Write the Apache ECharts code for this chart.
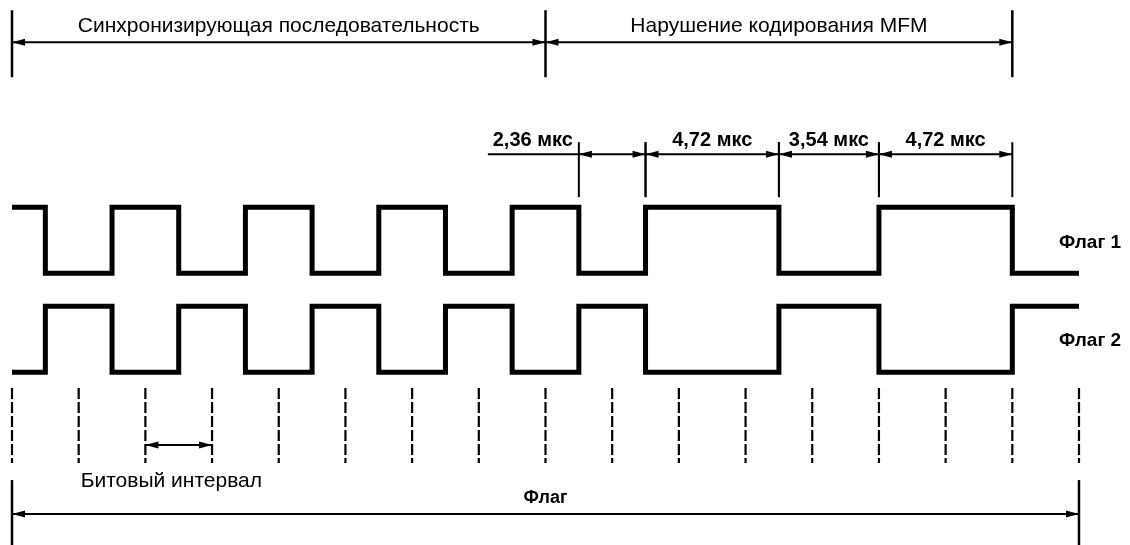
<!DOCTYPE html>
<html>
<head>
<meta charset="utf-8">
<script src="https://cdn.jsdelivr.net/npm/echarts@6/dist/echarts.min.js"></script>
<style>
  html, body { margin: 0; padding: 0; background: #fff; }
  #chart { width: 1130px; height: 545px; }
</style>
</head>
<body>
<div id="chart"></div>
<script>
// bit interval boundaries (x in bit intervals)
const bitTicks = [0, 1, 2, 3, 4, 5, 6, 7, 8, 9, 10, 11, 12, 13, 14, 15, 16]
// signal edges, same time points for both flags
const edgeTimes = [0, 0.5, 1.5, 2.5, 3.5, 4.5, 5.5, 6.5, 7.5, 8.5, 9.5, 11.5, 13, 15, 16]
const flag1Levels = [1, 0, 1, 0, 1, 0, 1, 0, 1, 0, 1, 0, 1, 0, 0]
const flag2Levels = [0, 1, 0, 1, 0, 1, 0, 1, 0, 1, 0, 1, 0, 1, 1]
const signalNames = ['Флаг 1', 'Флаг 2']

const sectionSpans = [[0, 8], [8, 15]]
const sectionNames = ['Синхронизирующая последовательность', 'Нарушение кодирования MFM']
const timingSpans = [[8.5, 9.5], [9.5, 11.5], [11.5, 13], [13, 15]]
const timingLabels = ['2,36 мкс', '4,72 мкс', '3,54 мкс', '4,72 мкс']
const bitSpan = [2, 3]
const bitLabel = 'Битовый интервал'
const flagSpan = [0, 16]
const flagLabel = 'Флаг'

// layout, y in axis units (one unit = signal swing)
const FLAG1_BASE = 1.5
const FLAG2_BASE = 0
const Y = {
  secTop: 5.485, secBottom: 4.47, secArrow: 5.0, secText: 5.245,
  timTop: 3.485, timBottom: 2.652, timArrow: 3.303, timText: 3.51,
  gridTop: -0.242, gridBottom: -1.379,
  bitArrow: -1.106, bitText: -1.655,
  flagTop: -1.636, flagBottom: -2.8, flagArrow: -2.152, flagText: -1.915,
  sig1Text: 1.965, sig2Text: 0.475
}
const FONT = '"Liberation Sans", Arial, sans-serif'

const chart = echarts.init(document.getElementById('chart'))

function vline(api, x, y1, y2, w, dash) {
  const a = api.coord([x, y1])
  const b = api.coord([x, y2])
  return {
    type: 'line',
    shape: { x1: a[0], y1: a[1], x2: b[0], y2: b[1] },
    style: { stroke: '#000', lineWidth: w || 2, lineDash: dash || null }
  }
}

function head(tip, dir) {
  const L = 13, W = 3.5
  return {
    type: 'polygon',
    shape: { points: [[tip[0], tip[1]], [tip[0] - dir * L, tip[1] - W], [tip[0] - dir * L, tip[1] + W]] },
    style: { fill: '#000' }
  }
}

function dim(api, x1, x2, y, leftExtra) {
  const a = api.coord([x1, y])
  const b = api.coord([x2, y])
  return [
    {
      type: 'line',
      shape: { x1: a[0] - (leftExtra || 0), y1: a[1], x2: b[0], y2: b[1] },
      style: { stroke: '#000', lineWidth: 2 }
    },
    head(a, -1),
    head(b, 1)
  ]
}

function label(x, y, text, size, align, weight) {
  return {
    type: 'text',
    x: x, y: y,
    style: {
      text: text, fill: '#000',
      fontSize: size, fontFamily: FONT, fontWeight: weight || 'normal',
      align: align || 'center', verticalAlign: 'middle'
    }
  }
}

function custom(name, data, render) {
  return {
    name: name,
    type: 'custom',
    data: data,
    clip: false,
    silent: true,
    renderItem: function (params, api) {
      return { type: 'group', children: render(params.dataIndex, api) }
    }
  }
}

const options = {
  animation: false,
  backgroundColor: '#fff',
  grid: { left: 12, right: 51, top: 0, bottom: 0 },
  xAxis: { type: 'value', min: 0, max: 16, show: false },
  yAxis: { type: 'value', min: -2.62, max: 5.64, show: false },
  series: [
    {
      name: signalNames[0],
      type: 'line',
      step: 'end',
      symbol: 'none',
      data: edgeTimes.map((t, i) => [t, FLAG1_BASE + flag1Levels[i]]),
      lineStyle: { color: '#000', width: 5, join: 'miter', cap: 'butt' }
    },
    {
      name: signalNames[1],
      type: 'line',
      step: 'end',
      symbol: 'none',
      data: edgeTimes.map((t, i) => [t, FLAG2_BASE + flag2Levels[i]]),
      lineStyle: { color: '#000', width: 5, join: 'miter', cap: 'butt' }
    },
    // dashed bit boundaries
    custom('bits', bitTicks.map(t => [t, Y.gridTop]), (i, api) => [
      vline(api, bitTicks[i], Y.gridTop, Y.gridBottom, 2.2, [11, 3])
    ]),
    // top section dimensions
    custom('sections', sectionSpans.map(s => [(s[0] + s[1]) / 2, Y.secArrow]), (i, api) => {
      const s = sectionSpans[i]
      const c = api.coord([(s[0] + s[1]) / 2, Y.secText])
      const parts = [
        vline(api, s[1], Y.secTop, Y.secBottom, 2.5),
        ...dim(api, s[0], s[1], Y.secArrow),
        label(c[0], c[1], sectionNames[i], 21)
      ]
      if (i === 0) parts.push(vline(api, s[0], Y.secTop, Y.secBottom, 2.5))
      return parts
    }),
    // timing dimensions
    custom('timing', timingSpans.map(s => [(s[0] + s[1]) / 2, Y.timArrow]), (i, api) => {
      const s = timingSpans[i]
      const a = api.coord([s[0], Y.timText])
      const b = api.coord([s[1], Y.timText])
      const outside = b[0] - a[0] < 90
      const parts = [
        vline(api, s[0], Y.timTop, Y.timBottom, 2),
        vline(api, s[1], Y.timTop, Y.timBottom, 2),
        ...dim(api, s[0], s[1], Y.timArrow, outside ? 91 : 0)
      ]
      if (outside) {
        parts.push(label(a[0] - 6, a[1], timingLabels[i], 20, 'right', 'bold'))
      } else {
        parts.push(label((a[0] + b[0]) / 2, a[1], timingLabels[i], 20, 'center', 'bold'))
      }
      return parts
    }),
    // bit interval
    custom('bit', [[(bitSpan[0] + bitSpan[1]) / 2, Y.bitArrow]], (i, api) => {
      const t = api.coord([bitTicks[1], Y.bitText])
      return [
        ...dim(api, bitSpan[0], bitSpan[1], Y.bitArrow),
        label(t[0] + 2, t[1], bitLabel, 21, 'left')
      ]
    }),
    // whole flag
    custom('flag', [[(flagSpan[0] + flagSpan[1]) / 2, Y.flagArrow]], (i, api) => {
      const c = api.coord([(flagSpan[0] + flagSpan[1]) / 2, Y.flagText])
      return [
        vline(api, flagSpan[0], Y.flagTop, Y.flagBottom, 2.5),
        vline(api, flagSpan[1], Y.flagTop, Y.flagBottom, 2.5),
        ...dim(api, flagSpan[0], flagSpan[1], Y.flagArrow),
        label(c[0], c[1], flagLabel, 18, 'center', 'bold')
      ]
    }),
    // signal names
    custom('names', [[16, Y.sig1Text], [16, Y.sig2Text]], (i, api) => {
      const p = api.coord([edgeTimes[edgeTimes.length - 1], i === 0 ? Y.sig1Text : Y.sig2Text])
      return [label(p[0] - 20, p[1], signalNames[i], 19, 'left', 'bold')]
    })
  ]
}

chart.setOption(options)
</script>
</body>
</html>
